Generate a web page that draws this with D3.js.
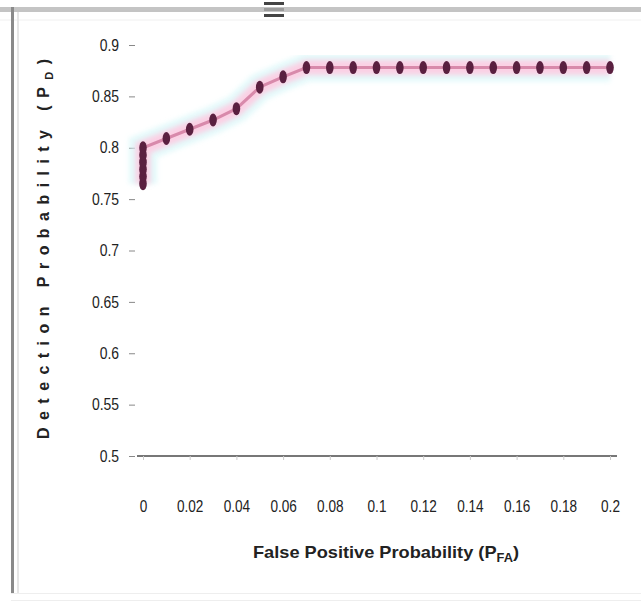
<!DOCTYPE html>
<html>
<head>
<meta charset="utf-8">
<script src="https://cdn.jsdelivr.net/npm/d3@7"></script>
<style>
  html, body { margin: 0; padding: 0; background: #fff; }
  svg { display: block; }
  text { font-family: "Liberation Sans", Arial, sans-serif; fill: #222; }
</style>
</head>
<body>
<svg id="chart" width="641" height="604"></svg>
<script>
// False positive probability (x) and detection probability (y)
const falsePositive = [0, 0, 0, 0, 0, 0, 0.01, 0.02, 0.03, 0.04, 0.05, 0.06, 0.07, 0.08, 0.09, 0.10,
  0.11, 0.12, 0.13, 0.14, 0.15, 0.16, 0.17, 0.18, 0.19, 0.20];
const detection = [0.765, 0.772, 0.779, 0.786, 0.793, 0.800, 0.809, 0.818, 0.827, 0.838, 0.859, 0.869, 0.878, 0.878, 0.878, 0.878,
  0.878, 0.878, 0.878, 0.878, 0.878, 0.878, 0.878, 0.878, 0.878, 0.878];

const xTickValues = [0, 0.02, 0.04, 0.06, 0.08, 0.10, 0.12, 0.14, 0.16, 0.18, 0.20];
const xTickLabels = ["0", "0.02", "0.04", "0.06", "0.08", "0.1", "0.12", "0.14", "0.16", "0.18", "0.2"];
const yTickValues = [0.5, 0.55, 0.6, 0.65, 0.7, 0.75, 0.8, 0.85, 0.9];
const yTickLabels = ["0.5", "0.55", "0.6", "0.65", "0.7", "0.75", "0.8", "0.85", "0.9"];

const svg = d3.select("#chart");

const x = d3.scaleLinear().domain([0, 0.2]).range([143, 610]);
const y = d3.scaleLinear().domain([0.5, 0.9]).range([456, 45]);

// window frame
const frame = svg.append("g");
frame.append("rect").attr("x", 0).attr("y", 7).attr("width", 641).attr("height", 5).attr("fill", "#c4c4c4");
frame.append("line").attr("x1", 0).attr("x2", 641).attr("y1", 20).attr("y2", 20).attr("stroke", "#f0f0f0");
frame.append("rect").attr("x", 11).attr("y", 7).attr("width", 3).attr("height", 586).attr("fill", "#8a8a8a");
frame.append("rect").attr("x", 17).attr("y", 12).attr("width", 2).attr("height", 581).attr("fill", "#e6e6e6");
frame.append("line").attr("x1", 11).attr("x2", 641).attr("y1", 593.5).attr("y2", 593.5).attr("stroke", "#eeeeee");
frame.append("line").attr("x1", 11).attr("x2", 641).attr("y1", 600.5).attr("y2", 600.5).attr("stroke", "#eeeeee");
// small menu glyph on the title bar
const glyph = frame.append("g").attr("transform", "translate(264,0)");
[2, 8, 14].forEach(d => glyph.append("rect").attr("x", 0).attr("y", d).attr("width", 20).attr("height", 3).attr("fill", d === 8 ? "#9a9a9a" : "#444"));

// x axis
const xAxis = d3.axisBottom(x).tickValues(xTickValues)
  .tickFormat((d, i) => xTickLabels[i]).tickSize(4).tickPadding(41);
const gx = svg.append("g").attr("transform", "translate(0,456)").call(xAxis);
gx.select(".domain").attr("d", "M137,0H617").attr("stroke", "#777").attr("stroke-width", 2);
gx.selectAll(".tick line").attr("stroke", "#ccc");
gx.selectAll(".tick text").attr("font-size", 16).attr("fill", "#222").style("font-family", null)
  .attr("transform", "scale(0.85,1)");

// y axis (ticks detached from the plot)
const ySx = 0.87;
const yAxis = d3.axisLeft(y).tickValues(yTickValues)
  .tickFormat((d, i) => yTickLabels[i]).tickSize(6).tickPadding(10);
const gy = svg.append("g").attr("transform", "translate(135,0)").call(yAxis);
gy.select(".domain").remove();
gy.selectAll(".tick line").attr("stroke", "#888");
gy.selectAll(".tick text").attr("font-size", 16).attr("fill", "#222").style("font-family", null)
  .attr("x", -16 / ySx).attr("transform", `scale(${ySx},1)`);

// data line: soft pink band with a darker core
const pts = falsePositive.map((d, i) => [d, detection[i]]);
const line = d3.line().x(d => x(d[0])).y(d => y(d[1]));
const defs = svg.append("defs");
defs.append("filter").attr("id", "soft").append("feGaussianBlur").attr("stdDeviation", 2.5);

svg.append("path").datum(pts).attr("d", line).attr("fill", "none")
  .attr("stroke", "#c8f4f6").attr("stroke-width", 28).attr("opacity", 0.5).attr("filter", "url(#soft)");
svg.append("path").datum(pts).attr("d", line).attr("fill", "none")
  .attr("stroke", "#fbd0e4").attr("stroke-width", 15).attr("filter", "url(#soft)");
svg.append("path").datum(pts).attr("d", line).attr("fill", "none")
  .attr("stroke", "#d88aab").attr("stroke-width", 3);

// markers
svg.append("g").selectAll("ellipse").data(pts).join("ellipse")
  .attr("cx", d => x(d[0])).attr("cy", d => y(d[1]))
  .attr("rx", 3.8).attr("ry", 6.5).attr("fill", "#5a2040");

// axis titles
const xt = svg.append("text").attr("x", 253).attr("y", 558).attr("font-size", 17).attr("font-weight", "bold");
xt.append("tspan").text("False Positive Probability (P");
xt.append("tspan").attr("font-size", 12).attr("dy", 4).text("FA");
xt.append("tspan").attr("dy", -4).text(")");
xt.attr("textLength", 266).attr("lengthAdjust", "spacingAndGlyphs");

const yt = svg.append("text").attr("transform", "translate(49,249) rotate(-90)")
  .attr("text-anchor", "middle").attr("font-size", 16).attr("font-weight", "bold");
yt.append("tspan").text("Detection Probability (P");
yt.append("tspan").attr("font-size", 11).attr("dy", 4).text("D");
yt.append("tspan").attr("dy", -4).text(")");
yt.attr("textLength", 380).attr("lengthAdjust", "spacing");
</script>
</body>
</html>
